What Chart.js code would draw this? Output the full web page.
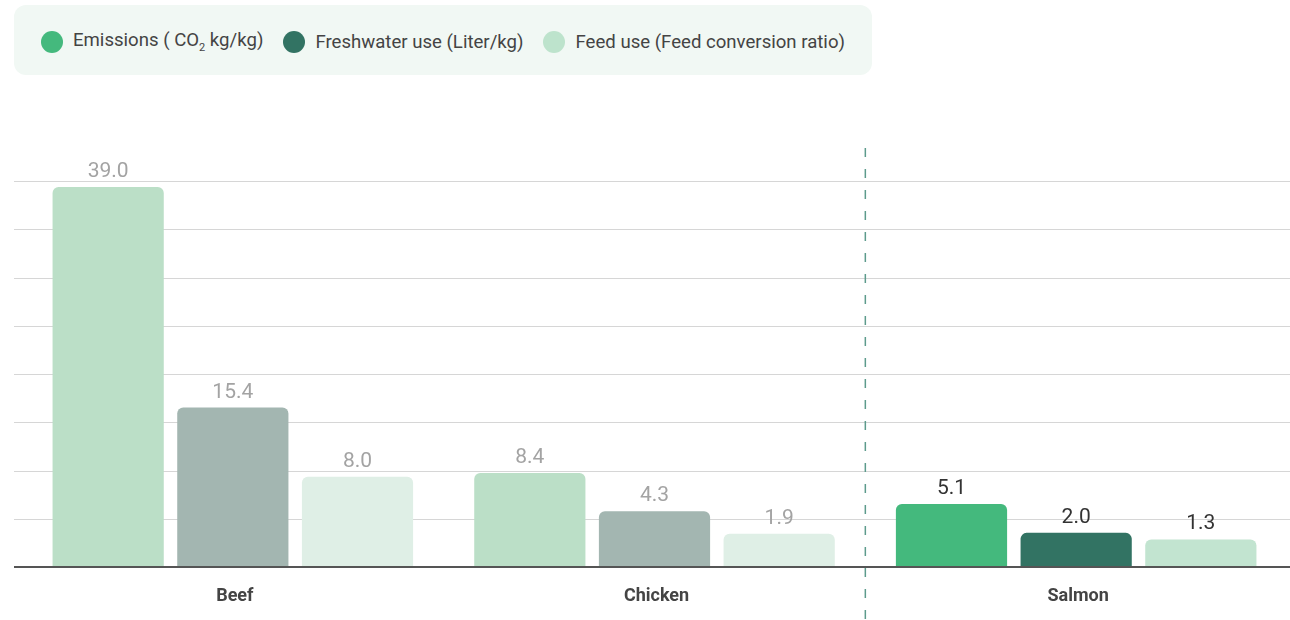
<!DOCTYPE html>
<html>
<head>
<meta charset="utf-8">
<script src="https://cdn.jsdelivr.net/npm/chart.js@4.4.1/dist/chart.umd.min.js"></script>
<style>
  html, body { margin: 0; padding: 0; background: #ffffff; }
  #wrap { position: relative; width: 1290px; height: 620px; font-family: Roboto, "Noto Sans", sans-serif; }
  #leyenda {
    position: absolute; left: 14px; top: 5px; width: 858px; height: 70px;
    background: #f1f8f4; border-radius: 12px; box-sizing: border-box;
    display: flex; align-items: center; padding-left: 27px; padding-top: 3px; gap: 20px;
    font-size: 18.6px; color: #444444;
  }
  .item { display: flex; align-items: center; gap: 10px; white-space: nowrap; }
  .dot { width: 22px; height: 22px; border-radius: 50%; display: inline-block; }
  sub { font-size: 11px; }
  canvas { position: absolute; left: 0; top: 0; }
</style>
</head>
<body>
<div id="wrap">
  <canvas id="grafico" width="1290" height="620"></canvas>
  <div id="leyenda">
    <span class="item"><span class="dot" style="background:#44b97d"></span><span>Emissions ( CO<sub>2</sub> kg/kg)</span></span>
    <span class="item"><span class="dot" style="background:#327363"></span><span>Freshwater use (Liter/kg)</span></span>
    <span class="item"><span class="dot" style="background:#bde3cc"></span><span>Feed use (Feed conversion ratio)</span></span>
  </div>
</div>
<script>
// Datos
const categorias = ['Beef', 'Chicken', 'Salmon'];
const emisiones = [39.0, 8.4, 5.1];
const aguaDulce = [15.4, 4.3, 2.0];
const alimento = [8.0, 1.9, 1.3];

// Colores: Beef y Chicken atenuados, Salmon resaltado
const coloresEmisiones = ['#bbdfc7', '#bbdfc7', '#44b97d'];
const coloresAgua = ['#a3b6b1', '#a3b6b1', '#327363'];
const coloresAlimento = ['#dfefe6', '#dfefe6', '#c2e4d0'];
const coloresEtiqueta = ['#a3a3a3', '#a3a3a3', '#333333'];

const yMin = -1.65;
const yMax = 39.63;

// Plugin: lineas de grilla, eje base, separador punteado y etiquetas de valor
const decoraciones = {
  id: 'decoraciones',
  beforeDatasetsDraw(chart) {
    const c = chart.ctx;
    const y = chart.scales.y;
    const x = chart.scales.x;
    c.save();
    c.strokeStyle = '#d6d6d6';
    c.lineWidth = 1;
    y.ticks.forEach((t, i) => {
      if (i === 0) return;
      const py = Math.round(y.getPixelForValue(t.value)) + 0.5;
      c.beginPath(); c.moveTo(14, py); c.lineTo(1290, py); c.stroke();
    });
    // separador punteado entre Chicken y Salmon
    const sx = (x.getPixelForValue(1) + x.getPixelForValue(2)) / 2;
    c.strokeStyle = '#5d9b8c';
    c.lineWidth = 1.5;
    c.setLineDash([9, 12]);
    c.beginPath(); c.moveTo(sx, 148); c.lineTo(sx, 620); c.stroke();
    c.restore();
  },
  afterDatasetsDraw(chart) {
    const c = chart.ctx;
    const y = chart.scales.y;
    c.save();
    // eje base
    const by = y.getPixelForValue(yMin);
    c.strokeStyle = '#555555';
    c.lineWidth = 2;
    c.beginPath(); c.moveTo(14, by); c.lineTo(1290, by); c.stroke();
    // etiquetas de valor
    c.font = '21px Roboto';
    c.textAlign = 'center';
    c.textBaseline = 'alphabetic';
    chart.data.datasets.forEach((ds, di) => {
      chart.getDatasetMeta(di).data.forEach((bar, i) => {
        c.fillStyle = coloresEtiqueta[i];
        c.fillText(ds.data[i].toFixed(1), bar.x, bar.y - 10);
      });
    });
    c.restore();
  }
};

const grafico = new Chart(document.getElementById('grafico'), {
  type: 'bar',
  data: {
    labels: categorias,
    datasets: [
      { label: 'Emissions ( CO2 kg/kg)', data: emisiones, backgroundColor: coloresEmisiones },
      { label: 'Freshwater use (Liter/kg)', data: aguaDulce, backgroundColor: coloresAgua },
      { label: 'Feed use (Feed conversion ratio)', data: alimento, backgroundColor: coloresAlimento }
    ]
  },
  options: {
    responsive: false,
    animation: false,
    layout: { padding: { left: 22, right: 3, top: 181, bottom: 15 } },
    datasets: {
      bar: {
        categoryPercentage: 0.887,
        barPercentage: 0.892,
        borderRadius: { topLeft: 6, topRight: 6 },
        borderSkipped: 'bottom',
        base: yMin
      }
    },
    plugins: { legend: { display: false }, tooltip: { enabled: false } },
    scales: {
      x: {
        grid: { display: false, drawTicks: false },
        border: { display: false },
        ticks: { color: '#444444', padding: 18.5, labelOffset: 2, font: { family: 'Roboto', size: 18, weight: 'bold' } },
        afterFit(axis) { axis.height = 38; }
      },
      y: {
        display: false,
        min: yMin,
        max: yMax,
        afterBuildTicks(axis) {
          const paso = (yMax - yMin) / 8;
          axis.ticks = [];
          for (let i = 0; i <= 8; i++) axis.ticks.push({ value: yMin + i * paso });
        }
      }
    }
  },
  plugins: [decoraciones]
});
</script>
</body>
</html>
